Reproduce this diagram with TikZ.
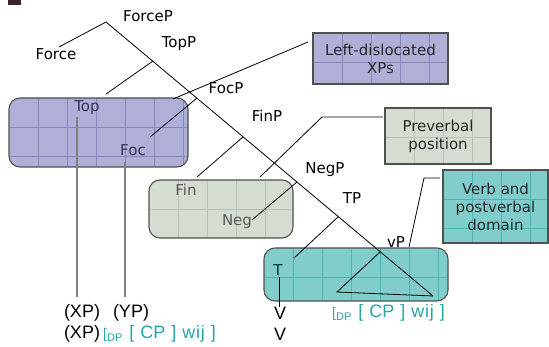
\documentclass[tikz,border=0pt]{standalone}
\usepackage{fontspec}
\setmainfont{DejaVu Sans}
\newfontfamily\arialfont{Liberation Sans}
\usepackage{xcolor}
\usetikzlibrary{positioning, calc}
\definecolor{lavfill}{HTML}{AFAFD8}
\definecolor{lavgrid}{HTML}{8585C2}
\definecolor{sagefill}{HTML}{D5DCD2}
\definecolor{sagegrid}{HTML}{B5C2B5}
\definecolor{tealfill}{HTML}{80CDCB}
\definecolor{tealgrid}{HTML}{4EB4B2}
\definecolor{tealtext}{HTML}{26A6A6}
\definecolor{boxline}{HTML}{505050}
\definecolor{cornermark}{HTML}{3D2525}
\tikzset{
    box grid/.style={
        path picture={
            \foreach \k in {1,...,8} {
                \draw[#1, line width=0.5pt] ([xshift=\k*29pt]path picture bounding box.north west) -- ([xshift=\k*29pt]path picture bounding box.south west);
                \draw[#1, line width=0.5pt] ([yshift=-\k*29pt]path picture bounding box.north west) -- ([yshift=-\k*29pt]path picture bounding box.north east);
            }
        }
    },
    tintbox/.style={
        rectangle, draw=boxline, line width=1.1pt,
        inner sep=0pt, align=center, text=black!85
    },
    lavbox/.style={tintbox, fill=lavfill, box grid=lavgrid},
    sagebox/.style={tintbox, fill=sagefill, box grid=sagegrid},
    tealbox/.style={tintbox, fill=tealfill, box grid=tealgrid},
    tree/.style={black, line width=0.8pt},
    trace/.style={black!50, line width=1.3pt},
    lab/.style={inner sep=1pt, text=black},
    bottomlab/.style={inner sep=1pt, font=\arialfont\fontsize{18}{20}\selectfont}
}
\newcommand{\dpbracket}{{\fontsize{14}{14}\selectfont[}\raisebox{-3pt}{\fontsize{11}{11}\selectfont DP}\hspace{2pt} [\hspace{1pt} CP\hspace{1pt} ]\hspace{1pt} w\hspace{0.8pt}i\hspace{0.8pt}j\hspace{1pt} ]}

\begin{document}
\begin{tikzpicture}[
    x=1pt, y=-1pt,
    every node/.style={font=\fontsize{15}{18}\selectfont}
]
\useasboundingbox (0,0) rectangle (549,347);

\fill[cornermark] (8,0) rectangle (21,5);

% shaded boxes
\node[lavbox, rounded corners=11pt, minimum width=179pt, minimum height=69pt] (topbox) at (98.5,132.5) {};
\node[lavbox, minimum width=135pt, minimum height=51pt] (ldbox) at (380.5,58.5) {Left-dislocated\\XPs};
\node[sagebox, minimum width=106pt, minimum height=56pt] (pvbox) at (438,136) {Preverbal\\position};
\node[sagebox, rounded corners=11pt, minimum width=144pt, minimum height=58pt] (finbox) at (221,209) {};
\node[tealbox, minimum width=105pt, minimum height=73pt] (vbbox) at (495.5,206.5) {Verb and\\postverbal\\domain};
\node[tealbox, rounded corners=11pt, minimum width=184pt, minimum height=53pt] (tbox) at (356,274.5) {};

% tree labels
\node[lab] (forceP) at (148,16) {ForceP};
\node[lab] (force) at (56,54) {Force};
\node[lab] (topP) at (179,44) {TopP};
\node[lab] (focP) at (226,88) {FocP};
\node[lab] (finP) at (267,116) {FinP};
\node[lab] (negP) at (325,170) {NegP};
\node[lab] (tP) at (352,198) {TP};
\node[lab] (vP) at (396,242) {vP};
\node[lab, text=black!75!blue!60!gray] (top) at (87,108) {Top};
\node[lab, text=black!75!blue!60!gray] (foc) at (133,150) {Foc};
\node[lab, text=black!65] (fin) at (186,190) {Fin};
\node[lab, text=black!65] (neg) at (237,222) {Neg};
\node[lab, text=black!60!teal] (t) at (278,270) {T};

% tree
\coordinate (apex) at (106,22);
\coordinate (forceEnd) at (59,47);
\coordinate (vEnd) at (433,296);
\coordinate (topJ) at (153,61);
\coordinate (topEnd) at (106,94);
\coordinate (focJ) at (197,98);
\coordinate (focEnd) at (150,137);
\coordinate (finJ) at (243,137);
\coordinate (finEnd) at (197,177);
\coordinate (negJ) at (297,182);
\coordinate (negEnd) at (252,220);
\coordinate (tJ) at (338,217);
\coordinate (tEnd) at (294,258);
\coordinate (vApex) at (380,252);
\coordinate (vLeft) at (337,292);

\draw[tree] (forceEnd) -- (apex) -- (vEnd);
\draw[tree] (topJ) -- (topEnd);
\draw[tree] (focJ) -- (focEnd);
\draw[tree] (finJ) -- (finEnd);
\draw[tree] (negJ) -- (negEnd);
\draw[tree] (tJ) -- (tEnd);
\draw[tree] (vApex) -- (vLeft) -- (vEnd);

% pointers from the boxes
\coordinate (ldTip) at (308,42);
\coordinate (ldFoot) at (173,99);
\coordinate (pvTip) at (383,117);
\coordinate (pvBend) at (322,117);
\coordinate (pvFoot) at (260,177);
\coordinate (vbTip) at (440,178);
\coordinate (vbBend) at (424,178);
\coordinate (vbFoot) at (409,247);

\draw[tree] (ldTip) -- (ldFoot);
\draw[tree] (pvTip) -- (pvBend) -- (pvFoot);
\draw[tree] (vbTip) -- (vbBend) -- (vbFoot);

% bottom strings
\node[bottomlab] (xpA) at (82,313) {(XP)};
\node[bottomlab] (ypA) at (131,313) {(YP)};
\node[bottomlab] (xpB) at (82,334) {(XP)};
\node[bottomlab, text=tealtext, anchor=west] (dpA) at (102,334) {\dpbracket};
\node[bottomlab] (vA) at (280,313) {V};
\node[bottomlab] (vB) at (280,334) {V};
\node[bottomlab, text=tealtext, anchor=west] (dpB) at (331,313) {\dpbracket};

% traces down to the strings
\coordinate (topTop) at (77,117);
\coordinate (topBot) at (77,297);
\coordinate (focTop) at (125,162);
\coordinate (focBot) at (125,297);
\coordinate (tTop) at (279,277);
\coordinate (tBot) at (279,307);
\draw[trace] (topTop) -- (topBot);
\draw[trace] (focTop) -- (focBot);
\draw[tree] (tTop) -- (tBot);

\end{tikzpicture}
\end{document}
